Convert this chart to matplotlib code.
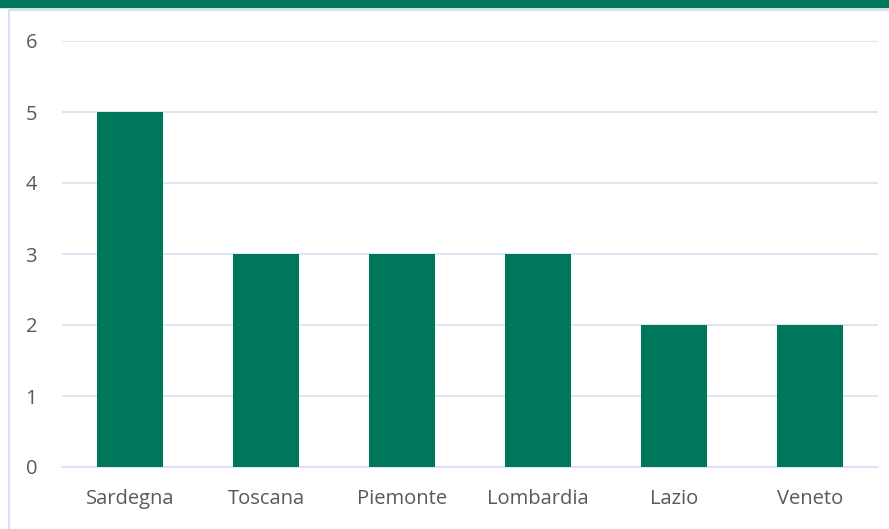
import matplotlib.pyplot as plt
from matplotlib.patches import Rectangle

regions = ["Sardegna", "Toscana", "Piemonte", "Lombardia", "Lazio", "Veneto"]
counts = [5, 3, 3, 3, 2, 2]

green = "#00765A"
grid_col = "#D5E1F2"

fig = plt.figure(figsize=(8.89, 5.29), dpi=100)

# green band on top and the light chart frame
fig.patches.append(Rectangle((0, 1 - 7 / 529), 1, 7 / 529, transform=fig.transFigure,
                             color=green, zorder=-2))
fig.patches.append(Rectangle((9 / 889, -0.1), 1.1, 1 - 10 / 529 + 0.1, transform=fig.transFigure,
                             facecolor="white", edgecolor=grid_col, linewidth=1.5, zorder=-2))

ax = fig.add_axes([62 / 889, 1 - 467 / 529, (878 - 62) / 889, (467 - 41) / 529])
ax.set_zorder(2)
ax.bar(range(len(regions)), counts, width=0.49, color=green, zorder=3)

ax.set_xlim(-0.5, len(regions) - 0.5)
ax.set_ylim(0, 6)
ax.set_yticks(range(7))
ax.set_xticks(range(len(regions)))
ax.set_xticklabels(regions)
ax.yaxis.grid(True, color=grid_col, linewidth=1.2)
ax.set_axisbelow(True)
for s in ["top", "right", "left"]:
    ax.spines[s].set_visible(False)
ax.spines["bottom"].set_color(grid_col)
ax.spines["bottom"].set_linewidth(1.2)
ax.tick_params(length=0, labelsize=14.5, labelcolor="#595959")
ax.tick_params(axis="x", pad=16)
ax.tick_params(axis="y", pad=18)
for lbl in ax.get_xticklabels() + ax.get_yticklabels():
    lbl.set_family("Open Sans")
ax.patch.set_alpha(0)

fig.savefig("out.png", dpi=100)
